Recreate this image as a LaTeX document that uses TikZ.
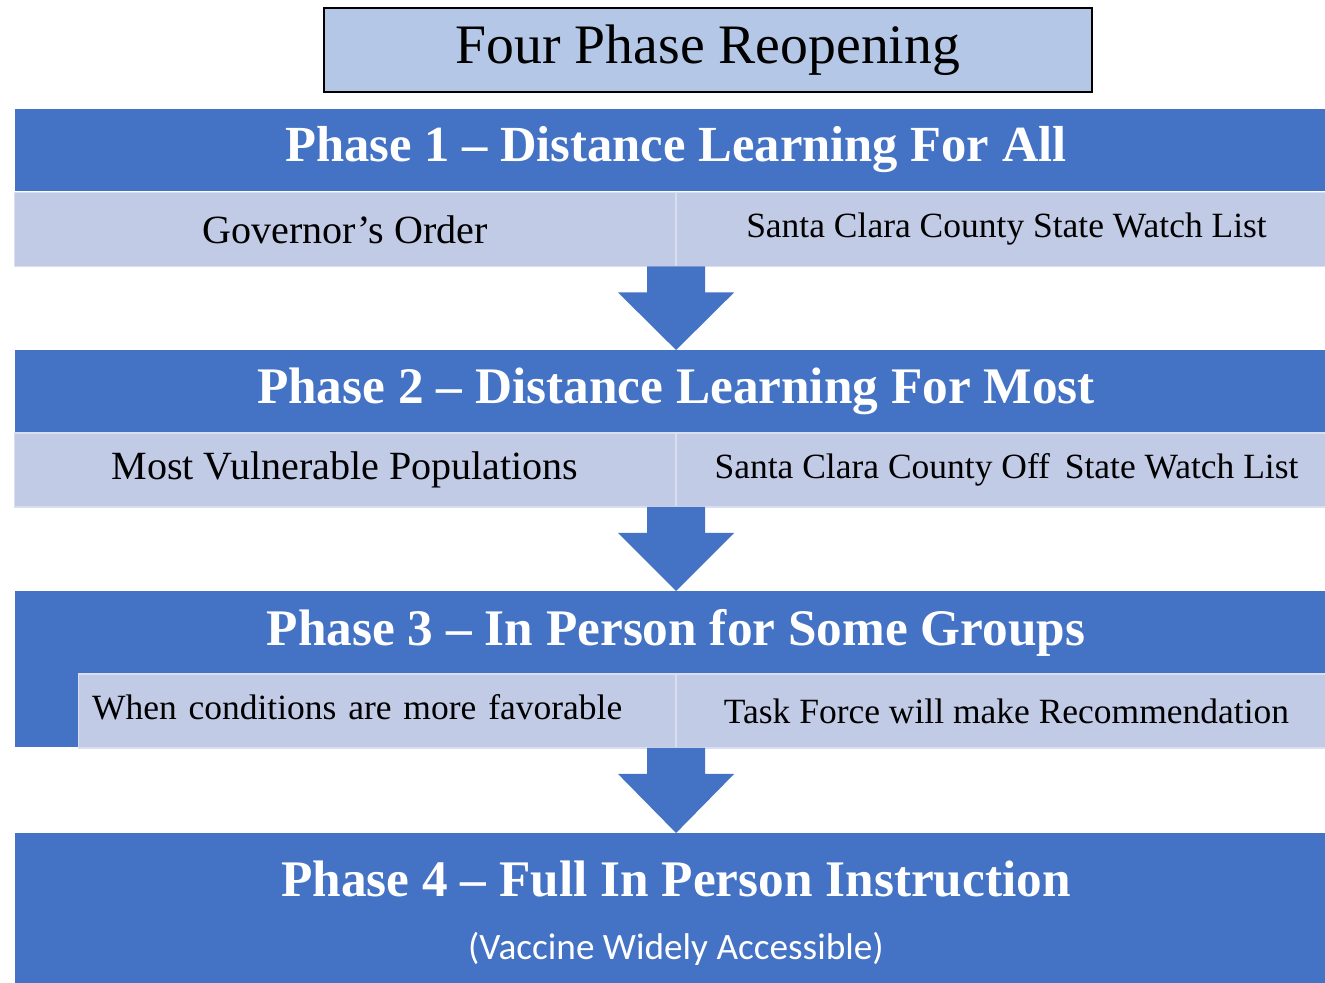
\documentclass[tikz,border=0pt]{standalone}
\usepackage{fontspec}
\setmainfont{Liberation Serif}
\newfontfamily\subfont{Carlito}
\usetikzlibrary{calc}
\definecolor{dkblue}{HTML}{4472C4}
\definecolor{ltcell}{HTML}{C1CBE6}
\definecolor{ttlfill}{HTML}{B4C7E7}
\definecolor{celledge}{HTML}{D9DEF0}
\tikzset{
  bar/.style={fill=dkblue, draw=none, outer sep=0pt, inner sep=0pt, text=white,
    font=\fontsize{29.2}{34}\selectfont\bfseries},
  cell/.style={fill=ltcell, draw=celledge, line width=0.6pt, outer sep=0pt, inner sep=0pt,
    minimum height=1.48cm, font=\fontsize{22.8}{27}\selectfont},
  smalltext/.style={font=\fontsize{20.2}{24}\selectfont},
  ttl/.style={fill=ttlfill, draw=black, line width=0.8pt, outer sep=0pt,
    minimum width=15.36cm, minimum height=1.68cm, font=\fontsize{31.7}{36}\selectfont},
  blockarrow/.style={fill=dkblue, draw=none},
}
\begin{document}
\begin{tikzpicture}[x=0.02cm, y=-0.02cm]
\useasboundingbox (0,0) rectangle (1325,983);
\fill[white] (0,0) rectangle (1325,983);

% title
\node[ttl] (title) at (708,50) {Four Phase Reopening};

% Phase 1
\node[bar, minimum width=26.44cm, minimum height=1.66cm, font=\fontsize{28.8}{34}\selectfont\bfseries] (p1) at (676,150) {Phase 1 -- Distance Learning For All};
\node[cell, minimum width=13.24cm] (c1l) at (345,229.5) {Governor’s Order};
\node[cell, smalltext, minimum width=13.22cm] (c1r) at (1006.5,229.5) {Santa Clara County State Watch List};

% Phase 2
\node[bar, minimum width=26.44cm, minimum height=1.66cm] (p2) at (676,391.5) {Phase 2 -- Distance Learning For Most};
\node[cell, minimum width=13.24cm] (c2l) at (345,470) {Most Vulnerable Populations};
\node[cell, smalltext, minimum width=13.22cm] (c2r) at (1006.5,470) {Santa Clara County Off\, State Watch List};

% Phase 3
\fill[dkblue] (15,591) rectangle (1337,747);
\node[bar, minimum width=26.44cm, minimum height=1.66cm] (p3) at (676,632.5) {Phase 3 -- In Person for Some Groups};
\node[cell, smalltext, minimum width=11.96cm, text width=11.4cm, inner xsep=0.28cm, align=left, anchor=center] (c3l) at (377,711) {\raisebox{0.2em}{When conditions are more favorable}};
\node[cell, smalltext, minimum width=13.22cm] (c3r) at (1006.5,711) {Task Force will make Recommendation};

% Phase 4
\node[bar, minimum width=26.44cm, minimum height=3.24cm] (p4) at (676,914) {};
\node[text=white, font=\fontsize{29.2}{34}\selectfont\bfseries, inner sep=0pt] (p4t) at (676,879) {Phase 4 -- Full In Person Instruction};
\node[text=white, font=\subfont\fontsize{21.2}{25}\selectfont, inner sep=0pt] (p4s) at (676,949) {(Vaccine Widely Accessible)};

% block arrows
\fill[blockarrow] ($(c1r.south west)+(-29,0)$) -- ++(0,26) -- ++(-29,0)
  -- (c1r.south west |- p2.north) -- ($(c1r.south west)+(58,26)$) -- ++(-29,0) -- ++(0,-26) -- cycle;
\fill[blockarrow] ($(c2r.south west)+(-29,0)$) -- ++(0,26) -- ++(-29,0)
  -- (c2r.south west |- p3.north) -- ($(c2r.south west)+(58,26)$) -- ++(-29,0) -- ++(0,-26) -- cycle;
\fill[blockarrow] ($(c3r.south west)+(-29,0)$) -- ++(0,26) -- ++(-29,0)
  -- (c3r.south west |- p4.north) -- ($(c3r.south west)+(58,26)$) -- ++(-29,0) -- ++(0,-26) -- cycle;
\end{tikzpicture}
\end{document}
